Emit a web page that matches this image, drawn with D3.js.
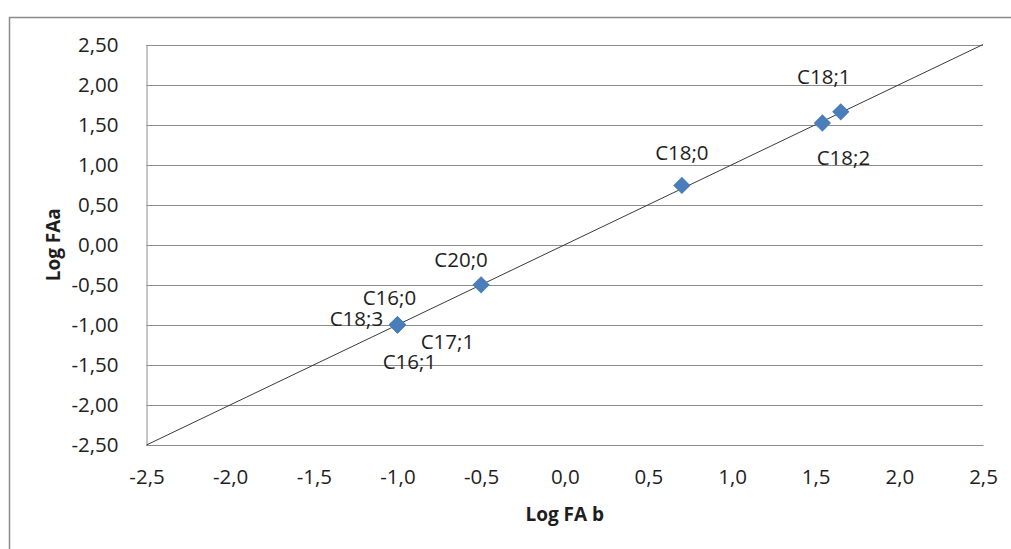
<!DOCTYPE html>
<html>
<head>
<meta charset="utf-8">
<script src="https://cdn.jsdelivr.net/npm/d3@7"></script>
<style>
  body { margin: 0; background: #fff; overflow: hidden; }
  text { font-family: "Open Sans", sans-serif; fill: #1e1e1e; }
</style>
</head>
<body>
<div id="chart"></div>
<script>
// data
var labels = ["C20;0", "C16;0", "C18;3", "C17;1", "C16;1", "C18;0", "C18;2", "C18;1"];
var logFAb = [-0.50, -1.00, -1.00, -1.00, -1.00, 0.70, 1.54, 1.65];
var logFAa = [-0.50, -1.00, -1.00, -1.00, -1.00, 0.74, 1.52, 1.66];
var xTicks = [-2.5, -2.0, -1.5, -1.0, -0.5, 0.0, 0.5, 1.0, 1.5, 2.0, 2.5];
var yTicks = [-2.5, -2.0, -1.5, -1.0, -0.5, 0.0, 0.5, 1.0, 1.5, 2.0, 2.5];
var refLine = [-2.5, 2.5];

// label nudges (pixels) like the manual placement in the original
var labelDx = [-20, -8, -41, 50, 12, 0, 21, -17];
var labelDy = [-25, -27, -6, 17, 37, -33, 35, -35];

var width = 1011, height = 549;
var margin = {top: 44.5, right: 28, bottom: 104, left: 146.5};

var svg = d3.select("#chart")
  .append("svg")
    .attr("width", width)
    .attr("height", height)
    .style("display", "block");

// outer chart frame (runs off the right and bottom edges)
svg.append("rect")
  .attr("x", 9.5)
  .attr("y", 17.5)
  .attr("width", width + 20)
  .attr("height", height + 20)
  .attr("fill", "none")
  .attr("stroke", "#8a8a8a")
  .attr("stroke-width", 1.5);

var x = d3.scaleLinear()
  .domain([-2.5, 2.5])
  .range([margin.left, width - margin.right]);

var y = d3.scaleLinear()
  .domain([-2.5, 2.5])
  .range([height - margin.bottom, margin.top]);

var fmtX = function(d) { return d3.format(".1f")(d).replace(".", ",").replace("−", "-"); };
var fmtY = function(d) { return d3.format(".2f")(d).replace(".", ",").replace("−", "-"); };

// horizontal gridlines
svg.append("g")
  .selectAll("line")
  .data(yTicks)
  .enter()
  .append("line")
    .attr("x1", x(-2.5))
    .attr("x2", x(2.5))
    .attr("y1", function(d) { return Math.round(y(d)) + 0.5; })
    .attr("y2", function(d) { return Math.round(y(d)) + 0.5; })
    .attr("stroke", "#8c8c8c")
    .attr("stroke-width", 1);

// Y axis
var yAxis = svg.append("g")
  .attr("transform", "translate(" + margin.left + ",0)")
  .call(d3.axisLeft(y).tickValues(yTicks).tickFormat(fmtY).tickSize(0).tickPadding(28));
yAxis.select(".domain").attr("stroke", "#8c8c8c");
yAxis.selectAll("text").style("font-size", "20.5px").attr("fill", "#1e1e1e");

// X axis
var xAxis = svg.append("g")
  .attr("transform", "translate(0," + (height - margin.bottom) + ")")
  .call(d3.axisBottom(x).tickValues(xTicks).tickFormat(fmtX).tickSize(0).tickPadding(24));
xAxis.select(".domain").attr("stroke", "#8c8c8c");
xAxis.selectAll("text").style("font-size", "20.5px").attr("fill", "#1e1e1e");

// axis titles
svg.append("text")
  .attr("transform", "translate(60," + y(0) + ") rotate(-90)")
  .style("text-anchor", "middle")
  .style("font-size", "19px")
  .style("font-weight", "bold")
  .text("Log FAa");

svg.append("text")
  .attr("x", (x(-2.5) + x(2.5)) / 2)
  .attr("y", 521)
  .style("text-anchor", "middle")
  .style("font-size", "19px")
  .style("font-weight", "bold")
  .text("Log FA b");

// y = x reference line
svg.append("line")
  .attr("x1", x(refLine[0]))
  .attr("y1", y(refLine[0]))
  .attr("x2", x(refLine[1]))
  .attr("y2", y(refLine[1]))
  .attr("stroke", "#3a3a3a")
  .attr("stroke-width", 1);

// diamonds
svg.append("g")
  .selectAll("path")
  .data(labels)
  .enter()
  .append("path")
    .attr("d", d3.symbol().type(d3.symbolDiamond2).size(190))
    .attr("transform", function(d, i) { return "translate(" + x(logFAb[i]) + "," + y(logFAa[i]) + ")"; })
    .attr("fill", "#4a7ebb");

// point labels
svg.append("g")
  .selectAll("text")
  .data(labels)
  .enter()
  .append("text")
    .attr("x", function(d, i) { return x(logFAb[i]) + labelDx[i]; })
    .attr("y", function(d, i) { return y(logFAa[i]) + labelDy[i]; })
    .attr("dy", "0.36em")
    .style("text-anchor", "middle")
    .style("font-size", "20.5px")
    .text(function(d) { return d; });
</script>
</body>
</html>
